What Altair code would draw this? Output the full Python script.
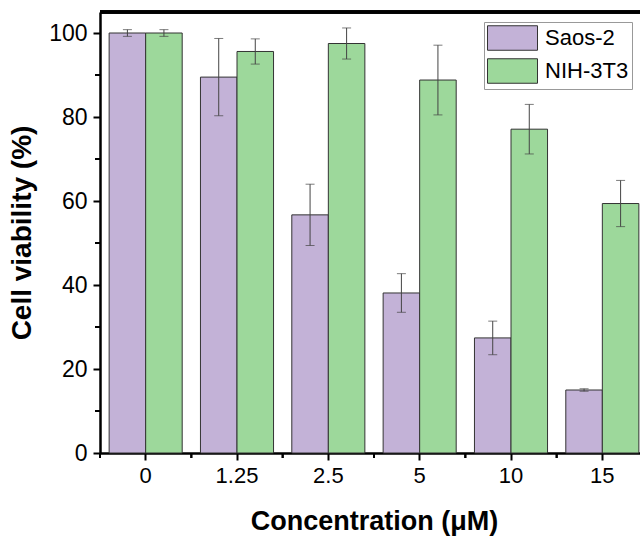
import altair as alt
import pandas as pd

concentrations = ["0", "1.25", "2.5", "5", "10", "15"]
series_names = ["Saos-2", "NIH-3T3"]
saos2_mean = [100.0, 89.5, 56.7, 38.1, 27.4, 15.0]
saos2_err = [0.8, 9.2, 7.3, 4.6, 4.0, 0.3]
nih_mean = [100.0, 95.6, 97.5, 88.8, 77.1, 59.4]
nih_err = [0.8, 3.0, 3.7, 8.3, 5.9, 5.5]
y_ticks = [0, 20, 40, 60, 80, 100]
y_minor = [10, 30, 50, 70, 90]
colors = ["#C3B2D7", "#9DD89B"]

rows = []
for s, means, errs in [("Saos-2", saos2_mean, saos2_err), ("NIH-3T3", nih_mean, nih_err)]:
    for c, m, e in zip(concentrations, means, errs):
        rows.append({"conc": c, "series": s, "mean": m, "err": e})
df = pd.DataFrame(rows)

FONT = "Liberation Sans"
INK = "#000000"
W, H = 540, 441
STEP = 548 / 6
Y_TOP = 105

xscale = alt.Scale(domain=concentrations, range=[0, 548], paddingInner=0.2, paddingOuter=0.1)
yscale = alt.Scale(domain=[0, Y_TOP], nice=False, zero=True)
xoff = alt.XOffset("series:N", sort=series_names, scale=alt.Scale(domain=series_names, paddingInner=0, paddingOuter=0))

base = alt.Chart(df)

bars = base.mark_bar(stroke="#333333", strokeWidth=1).encode(
    x=alt.X("conc:N", sort=concentrations, scale=xscale,
            axis=alt.Axis(title="Concentration (μM)", labelAngle=0, labelFontSize=22,
                          labelFont=FONT, labelColor=INK, labelPadding=5,
                          tickSize=7, tickWidth=2, tickColor=INK,
                          domainWidth=2.5, domainColor=INK,
                          titleFont=FONT, titleFontSize=27, titleFontWeight="bold",
                          titleColor=INK, titlePadding=22)),
    xOffset=xoff,
    y=alt.Y("mean:Q", scale=yscale,
            axis=alt.Axis(title="Cell viability (%)", values=y_ticks, grid=False,
                          labelFontSize=23, labelFont=FONT, labelColor=INK, labelPadding=6,
                          tickSize=7, tickWidth=2, tickColor=INK,
                          domainWidth=2.5, domainColor=INK,
                          titleFont=FONT, titleFontSize=28, titleFontWeight="bold",
                          titleColor=INK, titlePadding=12)),
    color=alt.Color("series:N", sort=series_names,
                    scale=alt.Scale(domain=series_names, range=colors),
                    legend=alt.Legend(title=None, orient="none", legendX=384, legendY=10,
                                      symbolType="M-1,-0.98H3V0.98H-1Z", symbolSize=625,
                                      symbolStrokeColor="#333333", symbolStrokeWidth=1,
                                      symbolOpacity=1, labelFontSize=22, labelFont=FONT,
                                      labelColor=INK, labelOffset=32, rowPadding=3,
                                      padding=3, strokeColor="#999999", fillColor="white")),
)

err = base.transform_calculate(lo="datum.mean - datum.err", hi="datum.mean + datum.err")

err_rule = err.mark_rule(color="#444444", strokeWidth=1).encode(
    x=alt.X("conc:N", sort=concentrations, scale=xscale),
    xOffset=xoff,
    y=alt.Y("lo:Q", scale=yscale),
    y2="hi:Q",
)
cap_lo = err.mark_tick(color="#444444", thickness=1, size=9, orient="horizontal").encode(
    x=alt.X("conc:N", sort=concentrations, scale=xscale),
    xOffset=xoff,
    y=alt.Y("lo:Q", scale=yscale),
)
cap_hi = err.mark_tick(color="#444444", thickness=1, size=9, orient="horizontal").encode(
    x=alt.X("conc:N", sort=concentrations, scale=xscale),
    xOffset=xoff,
    y=alt.Y("hi:Q", scale=yscale),
)

# frame line along the top of the plot area
top_line = base.mark_rule(color=INK, strokeWidth=2.5).encode(y=alt.datum(Y_TOP))

# minor ticks on the x axis, halfway between categories
minor_x = base.mark_rule(color=INK, strokeWidth=2, xOffset=-STEP / 2).encode(
    x=alt.X("conc:N", sort=concentrations, scale=xscale),
    y=alt.value(H), y2=alt.value(H + 5),
)

# minor ticks on the y axis
minor_y = alt.Chart(pd.DataFrame({"v": y_minor})).mark_rule(color=INK, strokeWidth=2).encode(
    y=alt.Y("v:Q", scale=yscale),
    x=alt.value(-5), x2=alt.value(0),
)

chart = alt.layer(bars, err_rule, cap_lo, cap_hi, top_line, minor_x, minor_y).properties(
    width=W, height=H,
    autosize=alt.AutoSizeParams(type="none"),
    padding={"left": 100, "top": 12, "right": 0, "bottom": 86},
    background="white",
).configure_view(stroke=None)

chart.save("out.html", embed_options={"renderer": "svg", "actions": False})
